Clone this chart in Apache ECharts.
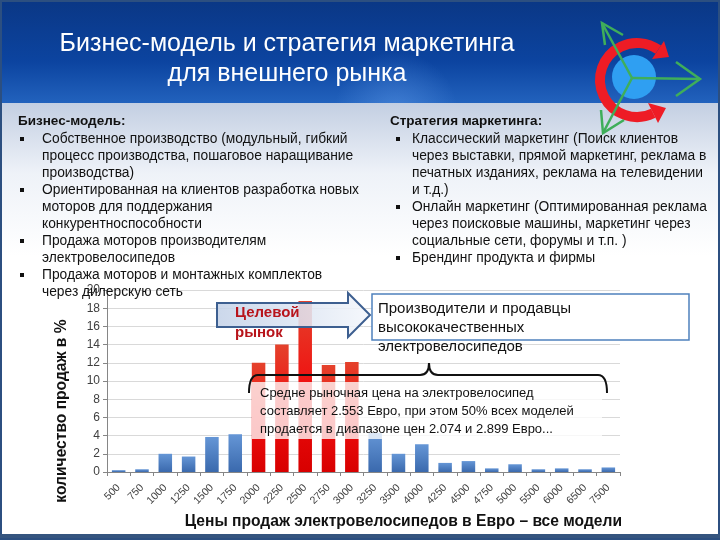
<!DOCTYPE html>
<html><head><meta charset="utf-8">
<script src="https://cdn.jsdelivr.net/npm/echarts@6/dist/echarts.min.js"></script>
<style>html,body{margin:0;padding:0;background:#fff}#c{width:720px;height:540px}</style>
</head><body><div id="c"></div>
<script>
const categories = ['500','750','1000','1250','1500','1750','2000','2250','2500','2750','3000','3250','3500','4000','4250','4500','4750','5000','5500','6000','6500','7500'];
const salesPercent = [0.2,0.3,2.0,1.7,3.85,4.15,12.0,14.0,18.8,11.75,12.1,4.3,2.0,3.05,1.0,1.2,0.4,0.85,0.3,0.4,0.3,0.5];
const targetMarket = ['2000','2250','2500','2750','3000'];
const yMin = 0, yMax = 20, yInterval = 2;

const titleLines = ['Бизнес-модель и стратегия маркетинга', 'для внешнего рынка'];
const leftHeading = 'Бизнес-модель:';
const leftBullets = [
  ['Собственное производство (модульный, гибкий','процесс производства, пошаговое наращивание','производства)'],
  ['Ориентированная на клиентов разработка новых','моторов для поддержания','конкурентноспособности'],
  ['Продажа моторов производителям','электровелосипедов'],
  ['Продажа моторов и монтажных комплектов','через дилерскую сеть']
];
const rightHeading = 'Стратегия маркетинга:';
const rightBullets = [
  ['Классический маркетинг (Поиск клиентов','через выставки, прямой маркетинг, реклама в','печатных изданиях, реклама на телевидении','и т.д.)'],
  ['Онлайн маркетинг (Оптимированная реклама','через поисковые машины, маркетинг через','социальные сети, форумы и т.п. )'],
  ['Брендинг продукта и фирмы']
];
const targetLabel = ['Целевой','рынок'];
const boxLines = ['Производители и продавцы','высококачественных','электровелосипедов'];
const noteLines = ['Средне рыночная цена на электровелосипед','составляет 2.553 Евро, при этом 50% всех моделей','продается в диапазоне цен 2.074 и 2.899 Евро...'];
const xAxisTitle = 'Цены продаж электровелосипедов в Евро – все модели';
const yAxisTitle = 'количество продаж в %';

const FONT = '"Liberation Sans", Arial, sans-serif';
const blueGrad = new echarts.graphic.LinearGradient(0,0,0,1,[{offset:0,color:'#6596d6'},{offset:1,color:'#3a69ad'}]);
const redGrad = new echarts.graphic.LinearGradient(0,0,0,1,[{offset:0,color:'#e4422c'},{offset:0.5,color:'#f01010'},{offset:1,color:'#d80000'}]);

const barData = salesPercent.map((v,i)=>({value:v, itemStyle:{color: targetMarket.includes(categories[i]) ? redGrad : blueGrad}}));

const g = [];
// backgrounds
g.push({type:'rect', z:-100, shape:{x:0,y:0,width:720,height:540}, style:{fill:'#ffffff'}});
g.push({type:'rect', z:-99, shape:{x:0,y:103,width:720,height:437}, style:{fill:new echarts.graphic.LinearGradient(0,0,0,1,[{offset:0,color:'#c3cfe2'},{offset:0.16,color:'#eef2f8'},{offset:0.35,color:'#ffffff'},{offset:1,color:'#ffffff'}])}});
g.push({type:'rect', z:-98, shape:{x:0,y:0,width:720,height:103}, style:{fill:new echarts.graphic.LinearGradient(0,0,0,1,[{offset:0,color:'#0a3785'},{offset:0.6,color:'#0c44a0'},{offset:1,color:'#2262bd'}])}});
g.push({type:'rect', z:-97, shape:{x:0,y:0,width:720,height:103}, style:{fill:new echarts.graphic.RadialGradient(0.55,1.1,0.6,[{offset:0,color:'rgba(90,150,230,0.55)'},{offset:1,color:'rgba(90,150,230,0)'}])}});
g.push({type:'rect', z:-96, shape:{x:1,y:1,width:718,height:538}, style:{fill:'none', stroke:'#2c4f80', lineWidth:2}});
g.push({type:'line', z:-96, shape:{x1:0,y1:536,x2:720,y2:536}, style:{stroke:'#35557f', lineWidth:4}});
// title
titleLines.forEach((t,i)=>g.push({type:'text', z:50, x: 287, y: [44,74][i], style:{text:t, font:'25px '+FONT, fill:'#ffffff', align:'center', verticalAlign:'middle'}}));
// text blocks
function block(x0, heading, bullets, bx, tx){
  let y = 121;
  g.push({type:'text', z:50, style:{text:heading, x:x0, y:y, font:'bold 13.5px '+FONT, fill:'#111', verticalAlign:'middle'}});
  y += 18;
  bullets.forEach(lines=>{
    g.push({type:'rect', z:50, shape:{x:bx, y:y-2, width:4, height:4}, style:{fill:'#111'}});
    lines.forEach(l=>{
      g.push({type:'text', z:50, style:{text:l, x:tx, y:y, font:'13.8px '+FONT, fill:'#111', verticalAlign:'middle'}});
      y += 17;
    });
  });
}
block(18, leftHeading, leftBullets, 20, 42);
block(390, rightHeading, rightBullets, 396, 412);
// logo
g.push({type:'circle', z:60, shape:{cx:634, cy:77, r:22}, style:{fill:'#2f9ff2'}});
g.push({type:'arc', z:61, shape:{cx:637, cy:80, r:37, startAngle:64*Math.PI/180, endAngle:305*Math.PI/180, clockwise:true}, style:{stroke:'#ee1c25', lineWidth:10, fill:'none'}});
g.push({type:'polygon', z:61, shape:{points:[[664,41],[652,59],[669,57]]}, style:{fill:'#ee1c25'}});
g.push({type:'polygon', z:61, shape:{points:[[658,123],[648,103],[666,108]]}, style:{fill:'#ee1c25'}});
const gc = [632,78];
[[[602,23],[605,45],[623,35]],[[700,79],[676,62],[676,96]],[[603,133],[601,110],[624,120]]].forEach(a=>{
  g.push({type:'line', z:62, shape:{x1:gc[0],y1:gc[1],x2:a[0][0],y2:a[0][1]}, style:{stroke:'#3fae5a', lineWidth:2.5}});
  g.push({type:'polyline', z:62, shape:{points:[a[1],a[0],a[2]]}, style:{stroke:'#3fae5a', lineWidth:2.5, fill:'none'}});
});
// arrow
g.push({type:'polygon', z:100, shape:{points:[[217,303],[348,303],[348,293],[370,315],[348,337],[348,327],[217,327]]}, style:{fill:new echarts.graphic.LinearGradient(0,0,1,0,[{offset:0,color:'rgba(196,210,232,0.88)'},{offset:1,color:'rgba(244,247,252,0.88)'}]), stroke:'#3d5f90', lineWidth:2}});
targetLabel.forEach((t,i)=>g.push({type:'text', z:101, style:{text:t, x:235, y:[313,333][i], font:'bold 15px '+FONT, fill:'#b8141b', verticalAlign:'middle'}}));
// box
g.push({type:'rect', z:100, shape:{x:372,y:294,width:317,height:46}, style:{fill:'#ffffff', stroke:'#4f81bd', lineWidth:1.5}});
boxLines.forEach((t,i)=>g.push({type:'text', z:101, style:{text:t, x:378, y:[309,328,347][i], font:'15px '+FONT, fill:'#111', verticalAlign:'middle'}}));
// note background
g.push({type:'rect', z:100, shape:{x:252,y:382,width:350,height:57}, style:{fill:'rgba(255,255,255,0.78)'}});
// brace
const braceStyle = {stroke:'#111', lineWidth:2, fill:'none'};
g.push({type:'bezierCurve', z:102, shape:{x1:249,y1:393,cpx1:249,cpy1:375,x2:258,y2:375}, style:braceStyle});
g.push({type:'line', z:102, shape:{x1:258,y1:375,x2:420,y2:375}, style:braceStyle});
g.push({type:'bezierCurve', z:102, shape:{x1:420,y1:375,cpx1:429,cpy1:375,x2:429,y2:363}, style:braceStyle});
g.push({type:'bezierCurve', z:102, shape:{x1:429,y1:363,cpx1:429,cpy1:375,x2:438,y2:375}, style:braceStyle});
g.push({type:'line', z:102, shape:{x1:438,y1:375,x2:598,y2:375}, style:braceStyle});
g.push({type:'bezierCurve', z:102, shape:{x1:598,y1:375,cpx1:607,cpy1:375,x2:607,y2:393}, style:braceStyle});
noteLines.forEach((t,i)=>g.push({type:'text', z:101, style:{text:t, x:260, y:[393,411,429][i], font:'13px '+FONT, fill:'#111', verticalAlign:'middle'}}));
// axis titles
g.push({type:'text', z:50, style:{text:xAxisTitle, x:622, y:522, font:'bold 15.6px '+FONT, fill:'#111', align:'right', verticalAlign:'middle'}});
g.push({type:'text', z:50, x:62, y:411, rotation:Math.PI/2, style:{text:yAxisTitle, font:'bold 15.6px '+FONT, fill:'#111', align:'center', verticalAlign:'middle'}});

const chart = echarts.init(document.getElementById('c'));
chart.setOption({
  animation:false,
  grid:{left:107, right:100, top:290, bottom:68, containLabel:false},
  xAxis:{type:'category', data:categories, boundaryGap:true,
    axisLine:{lineStyle:{color:'#868686'}}, axisTick:{show:true, alignWithLabel:false, lineStyle:{color:'#868686'}, length:4},
    axisLabel:{rotate:45, fontSize:10.5, color:'#404040', fontFamily:FONT, margin:14, interval:0}},
  yAxis:{type:'value', min:yMin, max:yMax, interval:yInterval,
    axisLine:{show:true, lineStyle:{color:'#868686'}}, axisTick:{show:true, length:4, lineStyle:{color:'#868686'}},
    axisLabel:{fontSize:12, color:'#404040', fontFamily:FONT, margin:7},
    splitLine:{lineStyle:{color:'#d9d9d9'}}},
  series:[{type:'bar', data:barData, barCategoryGap:'42%', z:2}],
  graphic:{elements:g}
});
</script></body></html>
